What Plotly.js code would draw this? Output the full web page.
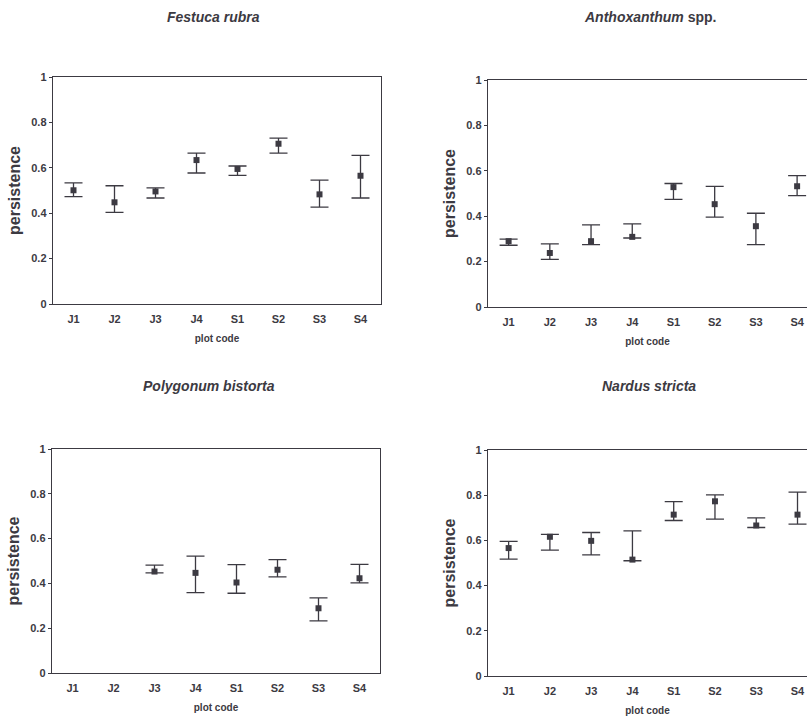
<!DOCTYPE html>
<html>
<head>
<meta charset="utf-8">
<script src="https://cdn.plot.ly/plotly-3.0.1.min.js"></script>
<style>html,body{margin:0;padding:0;background:#fff;}#chart{width:807px;height:717px;}</style>
</head>
<body>
<div id="chart"></div>
<script>
const plotCodes = ["J1","J2","J3","J4","S1","S2","S3","S4"];

const festucaMean  = [0.501,0.448,0.496,0.634,0.595,0.706,0.483,0.565];
const festucaUpper = [0.534,0.521,0.512,0.665,0.608,0.731,0.546,0.655];
const festucaLower = [0.473,0.404,0.467,0.577,0.567,0.665,0.427,0.467];

const anthoMean  = [0.290,0.238,0.290,0.309,0.528,0.453,0.356,0.532];
const anthoUpper = [0.299,0.278,0.362,0.366,0.544,0.531,0.413,0.579];
const anthoLower = [0.272,0.210,0.275,0.304,0.474,0.396,0.275,0.491];

const polyMean  = [null,null,0.453,0.447,0.404,0.461,0.289,0.423];
const polyUpper = [null,null,0.482,0.522,0.484,0.506,0.335,0.485];
const polyLower = [null,null,0.447,0.359,0.356,0.429,0.233,0.402];

const nardusMean  = [0.566,0.616,0.598,0.515,0.714,0.773,0.666,0.714];
const nardusUpper = [0.596,0.627,0.635,0.642,0.772,0.801,0.700,0.814];
const nardusLower = [0.517,0.557,0.536,0.510,0.688,0.694,0.657,0.672];

const panelTitles = ["<i>Festuca rubra</i>","<i>Anthoxanthum</i> spp.","<i>Polygonum bistorta</i>","<i>Nardus stricta</i>"];
const yTicks = [0,0.2,0.4,0.6,0.8,1];
const yTickText = ["0","0.2","0.4","0.6","0.8","1"];

const ink = "#3c3a42";
const W = 807, H = 717;

function makeTrace(mean, upper, lower, n) {
  const xs = plotCodes.map((c,i)=>i+1);
  const plus = mean.map((m,i)=> m==null ? null : upper[i]-m);
  const minus = mean.map((m,i)=> m==null ? null : m-lower[i]);
  return {
    type: "scatter", mode: "markers",
    x: xs, y: mean,
    xaxis: "x"+(n===1?"":n), yaxis: "y"+(n===1?"":n),
    marker: {symbol: "square", size: 6, color: ink},
    error_y: {type: "data", symmetric: false, array: plus, arrayminus: minus,
              color: ink, thickness: 1.3, width: 9},
    showlegend: false, hoverinfo: "x+y"
  };
}

const data = [
  makeTrace(festucaMean, festucaUpper, festucaLower, 1),
  makeTrace(anthoMean, anthoUpper, anthoLower, 2),
  makeTrace(polyMean, polyUpper, polyLower, 3),
  makeTrace(nardusMean, nardusUpper, nardusLower, 4)
];

// plot boxes in pixels: left, right, top, bottom, x range, title centre & row
const boxes = [
  {l:53,  r:381, t:77,  b:304, xr:[0.5,8.5],   fullBox:true,  tx:213, ty:17},
  {l:488, r:807, t:80,  b:307, xr:[0.5,8.24],  fullBox:false, tx:650, ty:17},
  {l:52,  r:380, t:449, b:673, xr:[0.5,8.5],   fullBox:true,  tx:209, ty:386},
  {l:488, r:807, t:450, b:676, xr:[0.5,8.23],  fullBox:false, tx:649, ty:386}
];

const fam = "Liberation Sans, Arial, sans-serif";
const layout = {
  width: W, height: H,
  margin: {l:0, r:0, t:0, b:0},
  paper_bgcolor: "#fff", plot_bgcolor: "#fff",
  font: {family: fam, color: ink},
  annotations: [],
  showlegend: false
};

boxes.forEach((b, k) => {
  const n = k+1;
  const sx = n===1 ? "" : String(n);
  layout["xaxis"+sx] = {
    domain: [b.l/W, b.r/W],
    range: b.xr,
    anchor: "y"+sx,
    tickmode: "array",
    tickvals: plotCodes.map((c,i)=>i+1),
    ticktext: plotCodes,
    ticks: "", ticklabelstandoff: 4,
    showgrid: false, zeroline: false,
    showline: true, linecolor: ink, linewidth: 1.3,
    mirror: true,
    tickfont: {family: fam, size: 11, color: ink, weight: "bold"},
    title: {text: "plot code", font: {family: fam, size: 10, color: ink, weight: "bold"}, standoff: 11},
    automargin: false, fixedrange: true
  };
  layout["yaxis"+sx] = {
    domain: [1-b.b/H, 1-b.t/H],
    range: [0,1],
    anchor: "x"+sx,
    tickmode: "array", tickvals: yTicks, ticktext: yTickText,
    ticks: "outside", ticklen: 3, tickwidth: 1, tickcolor: ink,
    showgrid: false, zeroline: false,
    showline: true, linecolor: ink, linewidth: 1.3,
    mirror: b.fullBox,
    tickfont: {family: fam, size: 11, color: ink, weight: "bold"},
    title: {text: "persistence", font: {family: fam, size: 16, color: ink, weight: "bold"}, standoff: 6},
    automargin: false, fixedrange: true
  };
  layout.annotations.push({
    text: panelTitles[k], xref: "paper", yref: "paper",
    x: b.tx/W, y: 1 - b.ty/H,
    xanchor: "center", yanchor: "middle", showarrow: false,
    font: {family: fam, size: 14, color: ink, weight: "bold"}
  });
});

Plotly.newPlot("chart", data, layout, {displayModeBar: false, staticPlot: true});
</script>
</body>
</html>
